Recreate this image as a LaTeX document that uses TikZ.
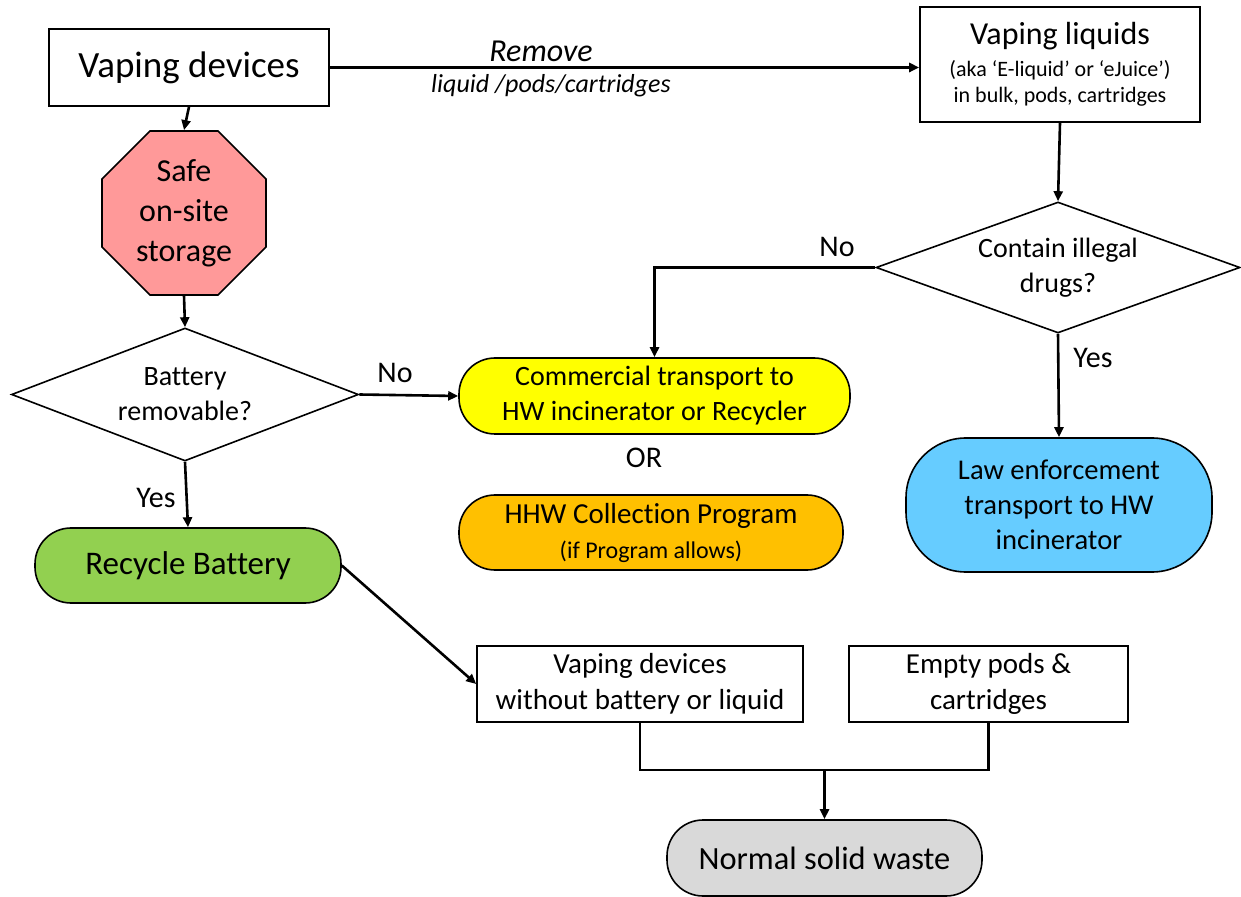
\documentclass[tikz,border=0pt]{standalone}
\usepackage{fontspec}
\setmainfont{Carlito}[Ligatures=NoCommon]
\usepackage{xcolor}
\usepackage{tikz}
\usetikzlibrary{positioning, arrows.meta, shapes.geometric}

\definecolor{stoppink}{HTML}{FF9999}
\definecolor{recgreen}{HTML}{92D050}
\definecolor{comyellow}{HTML}{FFFF00}
\definecolor{hhworange}{HTML}{FFC000}
\definecolor{lawblue}{HTML}{66CCFF}
\definecolor{wastegray}{HTML}{D9D9D9}

\begin{document}
\begin{tikzpicture}[
    x=0.5pt, y=-0.5pt,
    box/.style={rectangle, draw, line width=0.8pt, inner sep=0pt, align=center, font=\fontsize{14.5}{18}\selectfont},
    pill/.style={rectangle, draw, rounded corners=18pt, line width=0.8pt, inner sep=0pt, align=center, minimum height=37.5pt, font=\fontsize{14}{17.5}\selectfont, fill=#1},
    pill/.default=white,
    decide/.style={diamond, draw, line width=0.8pt, inner sep=0pt, align=center, font=\fontsize{14}{17.5}\selectfont},
    arrow/.style={-{Triangle[length=5pt, width=4.5pt]}, line width=1.3pt},
    label/.style={font=\fontsize{15}{18}\selectfont},
]
\useasboundingbox (0,0) rectangle (1241,897);

% top row
\node[box, minimum width=140pt, minimum height=38.5pt, font=\fontsize{18.5}{22}\selectfont] (dev) at (189, 67.5) {Vaping devices};
\node[box, minimum width=140pt, minimum height=57.5pt, font=\fontsize{11}{13}\selectfont] (liq) at (1060, 64.5) {{\fontsize{16}{19}\selectfont Vaping liquids}\\[3pt](aka ‘E-liquid’ or ‘eJuice’)\\in bulk, pods, cartridges};
\node[font=\fontsize{16}{18}\selectfont\itshape] (remove) at (541, 51) {Remove};
\node[font=\fontsize{13}{15}\selectfont\itshape] (what) at (551, 86) {liquid /pods/cartridges};

% left column
\node[regular polygon, regular polygon sides=8, minimum size=88.8pt, inner sep=0pt, draw, line width=0.8pt, fill=stoppink, align=center, font=\fontsize{16}{20}\selectfont] (store) at (184, 213) {Safe\\on-site\\storage};
\node[decide, shape aspect=2.6, minimum width=173.5pt, minimum height=66.5pt] (batt) at (185, 394.5) {Battery\\removable?};
\node[pill=recgreen, minimum width=153pt, font=\fontsize{16.5}{20}\selectfont] (recyc) at (188, 565.5) {Recycle Battery};

% middle
\node[pill=comyellow, minimum width=195.5pt, minimum height=38pt] (comm) at (654.5, 396) {Commercial transport to\\HW incinerator or Recycler};
\node[label] (or) at (644, 458) {OR};
\node[pill=hhworange, minimum width=192pt] (hhw) at (651, 532.5) {{\fontsize{14.5}{17}\selectfont HHW Collection Program}\\{\fontsize{12}{13}\selectfont (if Program allows)}};

% right column
\node[decide, shape aspect=2.78, minimum width=182pt, minimum height=65.5pt] (drugs) at (1058, 267.5) {Contain illegal\\drugs?};
\node[rectangle, draw, rounded corners=30pt, line width=0.8pt, inner sep=0pt, fill=lawblue, align=center, minimum width=153pt, minimum height=67pt, font=\fontsize{14.3}{17.5}\selectfont] (law) at (1059, 505) {Law enforcement\\transport to HW\\incinerator};

% bottom
\node[box, minimum width=163pt, minimum height=38pt] (novape) at (640, 684) {Vaping devices\\without battery or liquid};
\node[box, minimum width=139.5pt, minimum height=38pt] (empty) at (988.5, 684) {Empty pods \&\\cartridges};
\node[pill=wastegray, minimum width=157.5pt, minimum height=38pt, font=\fontsize{16.2}{20}\selectfont] (waste) at (824.5, 858) {Normal solid waste};
\coordinate (join) at (824.5, 770);

% decision labels
\node[label] (nobatt) at (395, 373) {No};
\node[label] (yesbatt) at (156, 498) {Yes};
\node[label] (nodrug) at (837, 247) {No};
\node[label] (yesdrug) at (1093, 358) {Yes};

\draw[arrow] (dev.east) -- (dev.east -| liq.west); \draw[arrow] (dev.south) -- (store.north); \draw[arrow] (store.south) -- (batt.north);
\draw[arrow] (batt.east) -- (comm.west); \draw[arrow] (batt.south) -- (recyc.north); \draw[arrow] (recyc.east) -- (novape.west);
\draw[arrow] (liq.south) -- (drugs.north); \draw[arrow] (drugs.west) -| (comm.north); \draw[arrow] (drugs.south) -- (law.north);
\draw[line width=1.3pt] (novape.south) |- (join) -| (empty.south); \draw[arrow] (join) -- (waste.north);
\end{tikzpicture}
\end{document}
